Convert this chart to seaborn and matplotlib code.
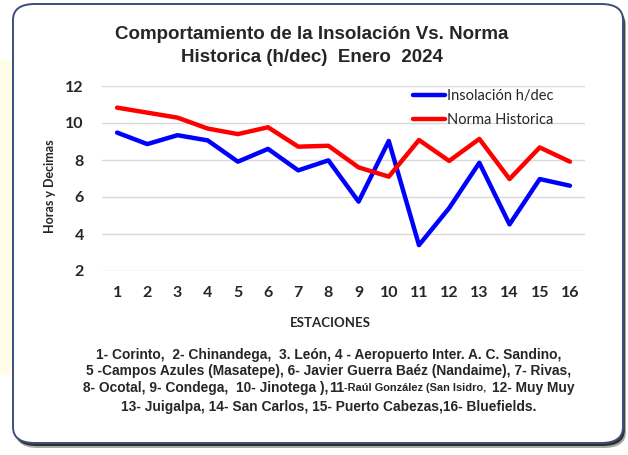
import numpy as np
import pandas as pd
import matplotlib
matplotlib.use("Agg")
import matplotlib.pyplot as plt
from matplotlib.patches import FancyBboxPatch, Rectangle
import seaborn as sns

# ---- data ----
estaciones = list(range(1, 17))
insolacion = [9.48, 8.86, 9.34, 9.06, 7.91, 8.60, 7.44, 7.98, 5.75, 9.03, 3.40, 5.40, 7.85, 4.52, 6.97, 6.61]
norma = [10.83, 10.56, 10.29, 9.70, 9.40, 9.77, 8.72, 8.77, 7.60, 7.10, 9.08, 7.95, 9.14, 6.97, 8.68, 7.91]
series_names = ["Insolación h/dec", "Norma Historica"]
yticks = [2, 4, 6, 8, 10, 12]
title = "Comportamiento de la Insolación Vs. Norma\nHistorica (h/dec)  Enero  2024"
ylabel = "Horas y Decimas"
xlabel = "ESTACIONES"

df = pd.DataFrame({
    "Estacion": estaciones * 2,
    "Valor": insolacion + norma,
    "Serie": [series_names[0]] * 16 + [series_names[1]] * 16,
})

sns.set_style("white")
W, H = 628, 455
fig = plt.figure(figsize=(W / 100, H / 100), dpi=100)
fig.patch.set_facecolor("white")

def fx(px):
    return px / W

def fy(py):
    return 1 - py / H

# faint yellow strip on the left
fig.add_artist(Rectangle((0, fy(375)), fx(12), fy(60) - fy(375), transform=fig.transFigure,
                         facecolor="#fffce8", edgecolor="none", zorder=0))
# shadow + rounded box
for off, col, a in [(5, "#555555", 0.5), (3, "#222222", 0.9)]:
    fig.add_artist(FancyBboxPatch((fx(13 + off * 0.6), fy(443 + off)), fx(610), fy(4) - fy(443),
                                  boxstyle="round,pad=0,rounding_size=0.035",
                                  transform=fig.transFigure, facecolor=col, edgecolor="none",
                                  alpha=a, zorder=0.5))
fig.add_artist(FancyBboxPatch((fx(13), fy(443)), fx(610), fy(4) - fy(443),
                              boxstyle="round,pad=0,rounding_size=0.035",
                              transform=fig.transFigure, facecolor="white", edgecolor="#3b4f7c",
                              linewidth=1.4, zorder=1))

ax = fig.add_axes([fx(102), fy(271), fx(585) - fx(102), fy(86) - fy(271)])
ax.set_zorder(2)
ax.patch.set_alpha(0)

sns.lineplot(data=df, x="Estacion", y="Valor", hue="Serie",
             palette={series_names[0]: "#0000ff", series_names[1]: "#ff0000"},
             linewidth=3.2, ax=ax, legend=True)

ax.set_xlim(0.5, 16.5)
ax.set_ylim(2, 12)
ax.set_yticks(yticks)
ax.set_xticks(estaciones)
ax.yaxis.grid(True, color="#d9d9d9", linewidth=1.0)
ax.set_axisbelow(True)
for s in ax.spines.values():
    s.set_visible(False)
ax.tick_params(axis="both", length=0, labelsize=11.5)
ax.tick_params(axis="y", pad=13)
ax.tick_params(axis="x", pad=11)
for lab in ax.get_xticklabels() + ax.get_yticklabels():
    lab.set_fontfamily("Lato")
    lab.set_fontweight("bold")
ax.set_xlabel("")
ax.set_ylabel("")

leg = ax.legend(loc="upper left", bbox_to_anchor=(fx(413), fy(89)), bbox_transform=fig.transFigure,
                frameon=False, handlelength=2.2, handletextpad=0.15, labelspacing=0.7,
                borderpad=0, borderaxespad=0, prop={"family": "Lato", "size": 10.5})
for line in leg.get_lines():
    line.set_linewidth(3.2)

fig.text(fx(312), fy(46), title, ha="center", va="center", fontsize=13.5,
         fontfamily="Liberation Sans", fontweight="bold", linespacing=1.4, zorder=3)
fig.text(fx(50), fy(186), ylabel, rotation=90, ha="center", va="center", fontsize=9,
         fontfamily="Lato", fontweight="bold", zorder=3)
fig.text(fx(330), fy(323), xlabel, ha="center", va="center", fontsize=9.5,
         fontfamily="Lato", fontweight="bold", zorder=3)

# station list
fam = "Liberation Sans"
base = 9.9
lines = [
    [("1- Corinto,  2- Chinandega,  3. León, 4 - Aeropuerto Inter. A. C. Sandino,", base)],
    [("5 -Campos Azules (Masatepe), 6- Javier Guerra Baéz (Nandaime), 7- Rivas,", base)],
    [("8- Ocotal, 9- Condega,  10- Jinotega ),", base), ("11", base + 0.6),
     ("-Raúl González (San Isidro,  ", base - 2.0), ("12- Muy Muy", base)],
    [("13- Juigalpa, 14- San Carlos, 15- Puerto Cabezas,16- Bluefields.", base)],
]
ys = [355, 371, 388, 407]
renderer = fig.canvas.get_renderer()
for parts, yy in zip(lines, ys):
    texts = []
    for s, sz in parts:
        t = fig.text(0, fy(yy), s, ha="left", va="center", fontsize=sz, fontfamily=fam,
                     fontweight="bold", zorder=3)
        texts.append(t)
    widths = [t.get_window_extent(renderer).width for t in texts]
    total = sum(widths)
    x0 = 329 - total / 2
    for t, w in zip(texts, widths):
        t.set_x(fx(x0))
        x0 += w

fig.savefig("out.png", dpi=100)
